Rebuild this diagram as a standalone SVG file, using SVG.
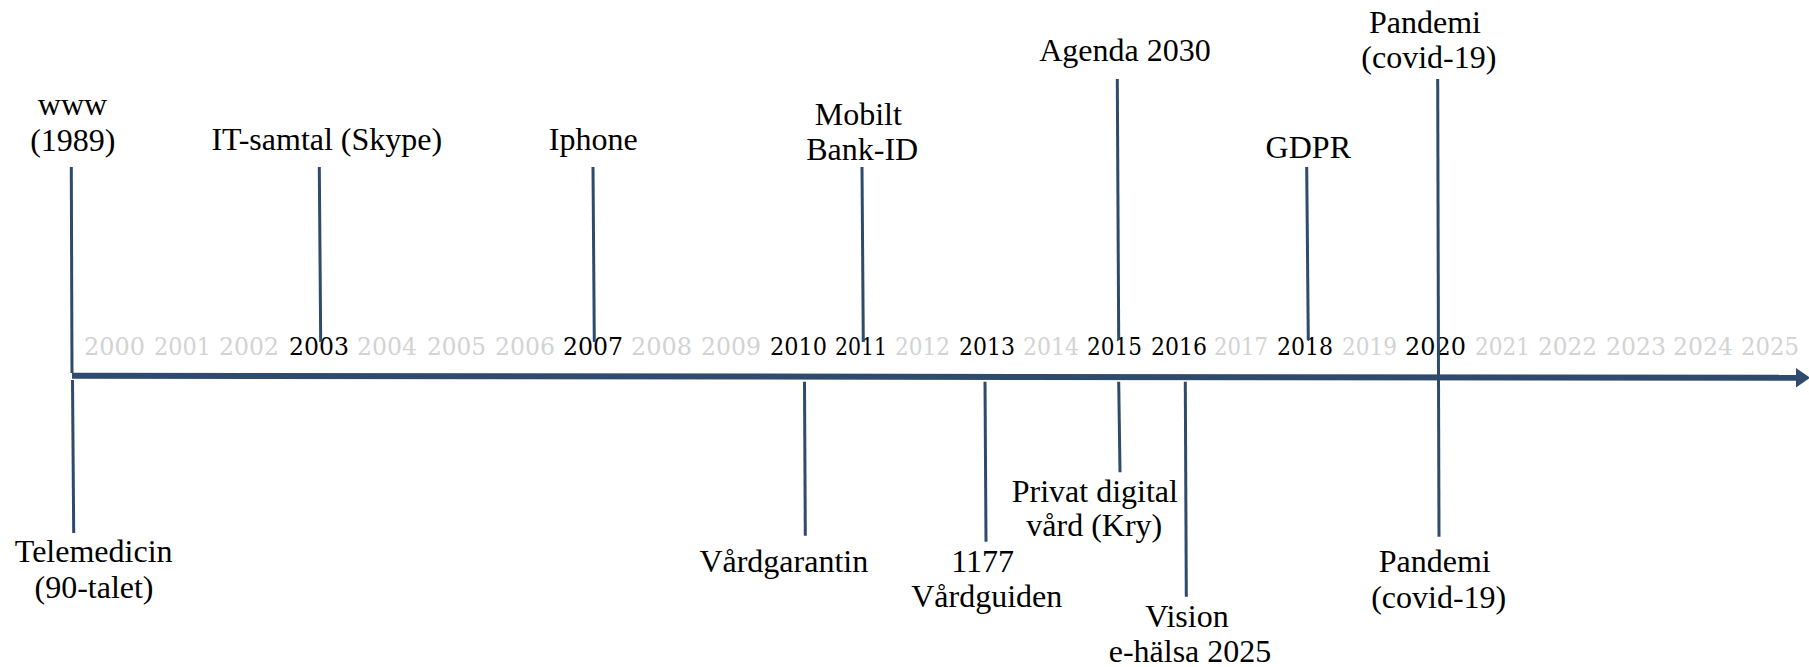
<svg xmlns="http://www.w3.org/2000/svg" width="1809" height="667" viewBox="0 0 1809 667">
<style>
.lbl{font-family:"Liberation Serif","Times New Roman",serif;font-size:32px;fill:#000;text-anchor:middle}
.yr{font-family:"DejaVu Serif","Liberation Serif",serif;font-size:23.5px;text-anchor:start}
.g{fill:#d3d3d3}
.k{fill:#000}
.ln{stroke:#2e4a6c;stroke-width:3;fill:none}
.axis{stroke:#2e4a6c;stroke-width:6;fill:none}
</style>
<rect width="1809" height="667" fill="#fff"/>
<g id="years">
<text class="yr g" x="84" y="355" textLength="61" lengthAdjust="spacingAndGlyphs">2000</text>
<text class="yr g" x="154" y="355" textLength="57" lengthAdjust="spacingAndGlyphs">2001</text>
<text class="yr g" x="219" y="355" textLength="60" lengthAdjust="spacingAndGlyphs">2002</text>
<text class="yr k" x="289" y="355" textLength="60" lengthAdjust="spacingAndGlyphs">2003</text>
<text class="yr g" x="357" y="355" textLength="60" lengthAdjust="spacingAndGlyphs">2004</text>
<text class="yr g" x="427" y="355" textLength="59" lengthAdjust="spacingAndGlyphs">2005</text>
<text class="yr g" x="495" y="355" textLength="60" lengthAdjust="spacingAndGlyphs">2006</text>
<text class="yr k" x="563" y="355" textLength="60" lengthAdjust="spacingAndGlyphs">2007</text>
<text class="yr g" x="631" y="355" textLength="61" lengthAdjust="spacingAndGlyphs">2008</text>
<text class="yr g" x="701" y="355" textLength="60" lengthAdjust="spacingAndGlyphs">2009</text>
<text class="yr k" x="770" y="355" textLength="57" lengthAdjust="spacingAndGlyphs">2010</text>
<text class="yr k" x="835" y="355" textLength="52" lengthAdjust="spacingAndGlyphs">2011</text>
<text class="yr g" x="895" y="355" textLength="55" lengthAdjust="spacingAndGlyphs">2012</text>
<text class="yr k" x="959" y="355" textLength="56" lengthAdjust="spacingAndGlyphs">2013</text>
<text class="yr g" x="1023" y="355" textLength="56" lengthAdjust="spacingAndGlyphs">2014</text>
<text class="yr k" x="1087" y="355" textLength="55" lengthAdjust="spacingAndGlyphs">2015</text>
<text class="yr k" x="1151" y="355" textLength="56" lengthAdjust="spacingAndGlyphs">2016</text>
<text class="yr g" x="1214" y="355" textLength="54" lengthAdjust="spacingAndGlyphs">2017</text>
<text class="yr k" x="1277" y="355" textLength="56" lengthAdjust="spacingAndGlyphs">2018</text>
<text class="yr g" x="1342" y="355" textLength="55" lengthAdjust="spacingAndGlyphs">2019</text>
<text class="yr k" x="1405" y="355" textLength="61" lengthAdjust="spacingAndGlyphs">2020</text>
<text class="yr g" x="1475" y="355" textLength="55" lengthAdjust="spacingAndGlyphs">2021</text>
<text class="yr g" x="1538" y="355" textLength="59" lengthAdjust="spacingAndGlyphs">2022</text>
<text class="yr g" x="1606" y="355" textLength="60" lengthAdjust="spacingAndGlyphs">2023</text>
<text class="yr g" x="1673" y="355" textLength="60" lengthAdjust="spacingAndGlyphs">2024</text>
<text class="yr g" x="1741" y="355" textLength="58" lengthAdjust="spacingAndGlyphs">2025</text>
</g>
<g id="connectors">
<line class="axis" x1="72" y1="375.8" x2="1799" y2="377.8"/>
<polygon points="1796,368 1810,377.8 1796,387.5" fill="#2e4a6c"/>
<line class="ln" x1="71.3" y1="167" x2="72" y2="373"/>
<line class="ln" x1="319.3" y1="167" x2="320.7" y2="342"/>
<line class="ln" x1="593" y1="167" x2="594.3" y2="342"/>
<line class="ln" x1="862" y1="167" x2="863.3" y2="342"/>
<line class="ln" x1="1117.3" y1="79" x2="1118.7" y2="340"/>
<line class="ln" x1="1306.7" y1="167" x2="1308.3" y2="340"/>
<line class="ln" x1="1437.7" y1="79" x2="1438.5" y2="377"/>
<line class="ln" x1="72.5" y1="380" x2="73.7" y2="533"/>
<line class="ln" x1="804.5" y1="381.7" x2="805.3" y2="535.7"/>
<line class="ln" x1="985" y1="381.7" x2="986" y2="541.7"/>
<line class="ln" x1="1118.7" y1="381.7" x2="1120" y2="472.3"/>
<line class="ln" x1="1185.3" y1="381.7" x2="1186.3" y2="596.7"/>
<line class="ln" x1="1438.5" y1="377" x2="1439" y2="536.7"/>
</g>
<g id="www"><text class="lbl" x="72.5" y="115">www</text><text class="lbl" x="72.8" y="151">(1989)</text></g>
<g id="skype"><text class="lbl" x="326.8" y="150">IT-samtal (Skype)</text></g>
<g id="iphone"><text class="lbl" x="593.3" y="150">Iphone</text></g>
<g id="bankid"><text class="lbl" x="858.3" y="125">Mobilt</text><text class="lbl" x="862.2" y="160">Bank-ID</text></g>
<g id="agenda"><text class="lbl" x="1125" y="61">Agenda 2030</text></g>
<g id="gdpr"><text class="lbl" x="1308.3" y="157.7">GDPR</text></g>
<g id="pandemi-top"><text class="lbl" x="1425" y="33.3">Pandemi</text><text class="lbl" x="1428.8" y="68.3">(covid-19)</text></g>
<g id="telemedicin"><text class="lbl" x="93.7" y="561.7">Telemedicin</text><text class="lbl" x="94" y="597.5">(90-talet)</text></g>
<g id="vardgarantin"><text class="lbl" x="783.8" y="571.7">Vårdgarantin</text></g>
<g id="vardguiden"><text class="lbl" x="982.7" y="571.7">1177</text><text class="lbl" x="986.7" y="606.7">Vårdguiden</text></g>
<g id="kry"><text class="lbl" x="1094.8" y="501.7">Privat digital</text><text class="lbl" x="1094.3" y="535.7">vård (Kry)</text></g>
<g id="vision"><text class="lbl" x="1187" y="626.7">Vision</text><text class="lbl" x="1190" y="661.7">e-hälsa 2025</text></g>
<g id="pandemi-bottom"><text class="lbl" x="1434.7" y="572.3">Pandemi</text><text class="lbl" x="1438.7" y="608.3">(covid-19)</text></g>
</svg>
